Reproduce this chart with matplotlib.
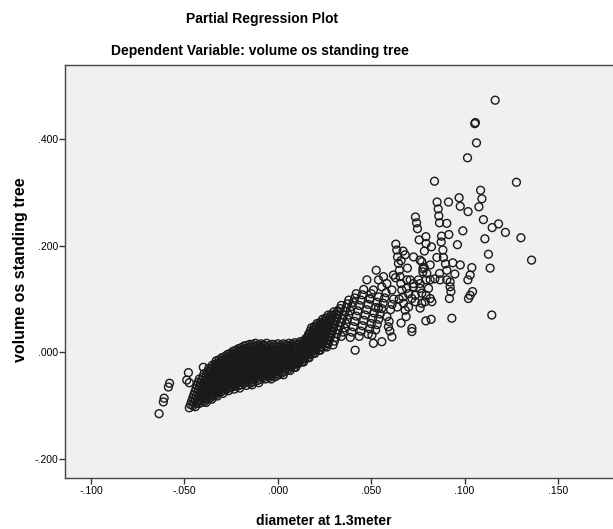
import matplotlib
matplotlib.use("Agg")
import matplotlib.pyplot as plt
from matplotlib.ticker import FuncFormatter

plt.rcParams['font.family'] = ['Liberation Sans', 'DejaVu Sans']

# --- values ---
# dense band of residuals, read streak by streak (each line is one streak)
band_x = [
    -0.0420, -0.0426, -0.0432, -0.0438, -0.0444, -0.0450, -0.0456, -0.0462, -0.0468, -0.0474,
    -0.0370, -0.0376, -0.0382, -0.0388, -0.0394, -0.0400, -0.0406, -0.0412, -0.0418, -0.0424, -0.0430, -0.0436, -0.0442,
    -0.0330, -0.0336, -0.0342, -0.0348, -0.0354, -0.0360, -0.0366, -0.0372, -0.0378, -0.0384, -0.0390, -0.0396, -0.0402, -0.0408,
    -0.0300, -0.0306, -0.0312, -0.0318, -0.0324, -0.0330, -0.0336, -0.0342, -0.0348, -0.0354, -0.0360, -0.0366, -0.0372, -0.0378, -0.0384,
    -0.0270, -0.0276, -0.0282, -0.0288, -0.0294, -0.0300, -0.0306, -0.0312, -0.0318, -0.0324, -0.0330, -0.0336, -0.0342, -0.0348, -0.0354,
    -0.0240, -0.0246, -0.0252, -0.0258, -0.0264, -0.0270, -0.0276, -0.0282, -0.0288, -0.0294, -0.0300, -0.0306, -0.0312, -0.0318, -0.0324,
    -0.0210, -0.0216, -0.0222, -0.0228, -0.0234, -0.0240, -0.0246, -0.0252, -0.0258, -0.0264, -0.0270, -0.0276, -0.0282, -0.0288, -0.0294,
    -0.0180, -0.0186, -0.0192, -0.0198, -0.0204, -0.0210, -0.0216, -0.0222, -0.0228, -0.0234, -0.0240, -0.0246, -0.0252, -0.0258, -0.0264,
    -0.0150, -0.0156, -0.0162, -0.0168, -0.0174, -0.0180, -0.0186, -0.0192, -0.0198, -0.0204, -0.0210, -0.0216, -0.0222, -0.0228, -0.0234,
    -0.0120, -0.0126, -0.0132, -0.0138, -0.0144, -0.0150, -0.0156, -0.0162, -0.0168, -0.0174, -0.0180, -0.0186, -0.0192, -0.0198, -0.0204,
    -0.0090, -0.0096, -0.0102, -0.0108, -0.0114, -0.0120, -0.0126, -0.0132, -0.0138, -0.0144, -0.0150, -0.0156, -0.0162, -0.0168,
    -0.0060, -0.0066, -0.0072, -0.0078, -0.0084, -0.0090, -0.0096, -0.0102, -0.0108, -0.0114, -0.0120, -0.0126, -0.0132, -0.0138,
    -0.0030, -0.0036, -0.0042, -0.0048, -0.0054, -0.0060, -0.0066, -0.0072, -0.0078, -0.0084, -0.0090, -0.0096, -0.0102,
    0.0000, -0.0006, -0.0012, -0.0018, -0.0024, -0.0030, -0.0036, -0.0042, -0.0048, -0.0054, -0.0060, -0.0066,
    0.0030, 0.0024, 0.0018, 0.0012, 0.0006, 0.0000, -0.0006, -0.0012, -0.0018, -0.0024, -0.0030, -0.0036,
    0.0060, 0.0054, 0.0048, 0.0042, 0.0036, 0.0030, 0.0024, 0.0018, 0.0012, 0.0006, 0.0000,
    0.0090, 0.0084, 0.0078, 0.0072, 0.0066, 0.0060, 0.0054, 0.0048, 0.0042, 0.0036, 0.0030,
    0.0120, 0.0114, 0.0108, 0.0102, 0.0096, 0.0090, 0.0084, 0.0078, 0.0072, 0.0066,
    0.0150, 0.0144, 0.0138, 0.0132, 0.0126, 0.0120, 0.0114, 0.0108, 0.0102, 0.0096,
    0.0180, 0.0174, 0.0168, 0.0162, 0.0156, 0.0150, 0.0144, 0.0138, 0.0132, 0.0126, 0.0120, 0.0114,
    0.0210, 0.0204, 0.0198, 0.0192, 0.0186, 0.0180, 0.0174, 0.0168, 0.0162, 0.0156, 0.0150, 0.0144, 0.0138,
    0.0240, 0.0234, 0.0228, 0.0222, 0.0216, 0.0210, 0.0204, 0.0198, 0.0192, 0.0186, 0.0180, 0.0174, 0.0168,
    0.0270, 0.0264, 0.0258, 0.0252, 0.0246, 0.0240, 0.0234, 0.0228, 0.0222, 0.0216, 0.0210, 0.0204, 0.0198,
    0.0300, 0.0294, 0.0288, 0.0282, 0.0276, 0.0270, 0.0264, 0.0258, 0.0252, 0.0246, 0.0240, 0.0234, 0.0228,
    0.0340, 0.0334, 0.0328, 0.0322, 0.0316, 0.0310, 0.0304, 0.0298, 0.0292, 0.0286, 0.0280, 0.0274, 0.0268, 0.0262,
    0.0380, 0.0373, 0.0366, 0.0359, 0.0352, 0.0345, 0.0338, 0.0331, 0.0324, 0.0317, 0.0310, 0.0303, 0.0296,
    0.0420, 0.0412, 0.0404, 0.0396, 0.0388, 0.0380, 0.0372, 0.0364, 0.0356, 0.0348, 0.0340,
    0.0460, 0.0452, 0.0444, 0.0436, 0.0428, 0.0420, 0.0412, 0.0404, 0.0396, 0.0388,
    0.0500, 0.0492, 0.0484, 0.0476, 0.0468, 0.0460, 0.0452, 0.0444, 0.0436,
    0.0540, 0.0532, 0.0524, 0.0516, 0.0508, 0.0500, 0.0492, 0.0484,
    0.0580, 0.0572, 0.0564, 0.0556, 0.0548, 0.0540, 0.0532, 0.0524,
    0.0620, 0.0612, 0.0604, 0.0596, 0.0600,
]
band_y = [
    -0.050, -0.056, -0.062, -0.068, -0.074, -0.080, -0.086, -0.092, -0.098, -0.104,
    -0.030, -0.036, -0.042, -0.048, -0.054, -0.060, -0.066, -0.072, -0.078, -0.084, -0.090, -0.096, -0.102,
    -0.016, -0.022, -0.028, -0.034, -0.040, -0.046, -0.052, -0.058, -0.064, -0.070, -0.076, -0.082, -0.088, -0.094,
    -0.010, -0.016, -0.022, -0.028, -0.034, -0.040, -0.046, -0.052, -0.058, -0.064, -0.070, -0.076, -0.082, -0.088, -0.094,
    -0.004, -0.010, -0.016, -0.022, -0.028, -0.034, -0.040, -0.046, -0.052, -0.058, -0.064, -0.070, -0.076, -0.082, -0.088,
    0.002, -0.004, -0.010, -0.016, -0.022, -0.028, -0.034, -0.040, -0.046, -0.052, -0.058, -0.064, -0.070, -0.076, -0.082,
    0.007, 0.001, -0.005, -0.011, -0.017, -0.023, -0.029, -0.035, -0.041, -0.047, -0.053, -0.059, -0.065, -0.071, -0.077,
    0.012, 0.006, 0.000, -0.006, -0.012, -0.018, -0.024, -0.030, -0.036, -0.042, -0.048, -0.054, -0.060, -0.066, -0.072,
    0.015, 0.009, 0.003, -0.003, -0.009, -0.015, -0.021, -0.027, -0.033, -0.039, -0.045, -0.051, -0.057, -0.063, -0.069,
    0.017, 0.011, 0.005, -0.001, -0.007, -0.013, -0.019, -0.025, -0.031, -0.037, -0.043, -0.049, -0.055, -0.061, -0.067,
    0.016, 0.010, 0.004, -0.002, -0.008, -0.014, -0.020, -0.026, -0.032, -0.038, -0.044, -0.050, -0.056, -0.062,
    0.017, 0.011, 0.005, -0.001, -0.007, -0.013, -0.019, -0.025, -0.031, -0.037, -0.043, -0.049, -0.055, -0.061,
    0.015, 0.009, 0.003, -0.003, -0.009, -0.015, -0.021, -0.027, -0.033, -0.039, -0.045, -0.051, -0.057,
    0.016, 0.010, 0.004, -0.002, -0.008, -0.014, -0.020, -0.026, -0.032, -0.038, -0.044, -0.050,
    0.016, 0.010, 0.004, -0.002, -0.008, -0.014, -0.020, -0.026, -0.032, -0.038, -0.044, -0.050,
    0.017, 0.011, 0.005, -0.001, -0.007, -0.013, -0.019, -0.025, -0.031, -0.037, -0.043,
    0.018, 0.012, 0.006, 0.000, -0.006, -0.012, -0.018, -0.024, -0.030, -0.036, -0.042,
    0.020, 0.014, 0.008, 0.002, -0.004, -0.010, -0.016, -0.022, -0.028, -0.034,
    0.026, 0.020, 0.014, 0.008, 0.002, -0.004, -0.010, -0.016, -0.022, -0.028,
    0.046, 0.040, 0.034, 0.028, 0.022, 0.016, 0.010, 0.004, -0.002, -0.008, -0.014, -0.020,
    0.054, 0.048, 0.042, 0.036, 0.030, 0.024, 0.018, 0.012, 0.006, 0.000, -0.006, -0.012, -0.018,
    0.062, 0.056, 0.050, 0.044, 0.038, 0.032, 0.026, 0.020, 0.014, 0.008, 0.002, -0.004, -0.010,
    0.070, 0.064, 0.058, 0.052, 0.046, 0.040, 0.034, 0.028, 0.022, 0.016, 0.010, 0.004, -0.002,
    0.076, 0.070, 0.064, 0.058, 0.052, 0.046, 0.040, 0.034, 0.028, 0.022, 0.016, 0.010, 0.004,
    0.088, 0.082, 0.076, 0.070, 0.064, 0.058, 0.052, 0.046, 0.040, 0.034, 0.028, 0.022, 0.016, 0.010,
    0.098, 0.091, 0.084, 0.077, 0.070, 0.063, 0.056, 0.049, 0.042, 0.035, 0.028, 0.021, 0.014,
    0.110, 0.102, 0.094, 0.086, 0.078, 0.070, 0.062, 0.054, 0.046, 0.038, 0.030,
    0.118, 0.108, 0.098, 0.088, 0.078, 0.068, 0.058, 0.048, 0.038, 0.028,
    0.110, 0.100, 0.090, 0.080, 0.070, 0.060, 0.050, 0.040, 0.030,
    0.104, 0.094, 0.084, 0.074, 0.064, 0.054, 0.044, 0.034,
    0.112, 0.102, 0.092, 0.082, 0.072, 0.062, 0.052, 0.042,
    0.100, 0.090, 0.080, 0.058, 0.040,
]

# streaks lying in between the ones above (the band is solid black there)
fill_x = [
    -0.0395, -0.0401, -0.0407, -0.0413, -0.0419, -0.0425, -0.0431, -0.0437, -0.0443, -0.0449, -0.0455,
    -0.0350, -0.0356, -0.0362, -0.0368, -0.0374, -0.0380, -0.0386, -0.0392, -0.0398, -0.0404, -0.0410, -0.0416, -0.0422,
    -0.0315, -0.0321, -0.0327, -0.0333, -0.0339, -0.0345, -0.0351, -0.0357, -0.0363, -0.0369, -0.0375, -0.0381, -0.0387, -0.0393,
    -0.0285, -0.0291, -0.0297, -0.0303, -0.0309, -0.0315, -0.0321, -0.0327, -0.0333, -0.0339, -0.0345, -0.0351, -0.0357, -0.0363,
    -0.0255, -0.0261, -0.0267, -0.0273, -0.0279, -0.0285, -0.0291, -0.0297, -0.0303, -0.0309, -0.0315, -0.0321, -0.0327, -0.0333,
    -0.0225, -0.0231, -0.0237, -0.0243, -0.0249, -0.0255, -0.0261, -0.0267, -0.0273, -0.0279, -0.0285, -0.0291, -0.0297, -0.0303,
    -0.0195, -0.0201, -0.0207, -0.0213, -0.0219, -0.0225, -0.0231, -0.0237, -0.0243, -0.0249, -0.0255, -0.0261, -0.0267, -0.0273,
    -0.0165, -0.0171, -0.0177, -0.0183, -0.0189, -0.0195, -0.0201, -0.0207, -0.0213, -0.0219, -0.0225, -0.0231, -0.0237, -0.0243,
    -0.0135, -0.0141, -0.0147, -0.0153, -0.0159, -0.0165, -0.0171, -0.0177, -0.0183, -0.0189, -0.0195, -0.0201, -0.0207, -0.0213,
    -0.0105, -0.0111, -0.0117, -0.0123, -0.0129, -0.0135, -0.0141, -0.0147, -0.0153, -0.0159, -0.0165, -0.0171, -0.0177,
    -0.0075, -0.0081, -0.0087, -0.0093, -0.0099, -0.0105, -0.0111, -0.0117, -0.0123, -0.0129, -0.0135, -0.0141, -0.0147,
    -0.0045, -0.0051, -0.0057, -0.0063, -0.0069, -0.0075, -0.0081, -0.0087, -0.0093, -0.0099, -0.0105, -0.0111,
    -0.0015, -0.0021, -0.0027, -0.0033, -0.0039, -0.0045, -0.0051, -0.0057, -0.0063, -0.0069, -0.0075,
    0.0015, 0.0009, 0.0003, -0.0003, -0.0009, -0.0015, -0.0021, -0.0027, -0.0033, -0.0039, -0.0045,
    0.0045, 0.0039, 0.0033, 0.0027, 0.0021, 0.0015, 0.0009, 0.0003, -0.0003, -0.0009, -0.0015,
    0.0075, 0.0069, 0.0063, 0.0057, 0.0051, 0.0045, 0.0039, 0.0033, 0.0027, 0.0021,
    0.0105, 0.0099, 0.0093, 0.0087, 0.0081, 0.0075, 0.0069, 0.0063, 0.0057,
    0.0135, 0.0129, 0.0123, 0.0117, 0.0111, 0.0105, 0.0099, 0.0093, 0.0087,
    0.0165, 0.0159, 0.0153, 0.0147, 0.0141, 0.0135, 0.0129, 0.0123, 0.0117, 0.0111,
    0.0195, 0.0189, 0.0183, 0.0177, 0.0171, 0.0165, 0.0159, 0.0153, 0.0147, 0.0141, 0.0135, 0.0129,
    0.0225, 0.0219, 0.0213, 0.0207, 0.0201, 0.0195, 0.0189, 0.0183, 0.0177, 0.0171, 0.0165, 0.0159,
    0.0255, 0.0249, 0.0243, 0.0237, 0.0231, 0.0225, 0.0219, 0.0213, 0.0207, 0.0201, 0.0195, 0.0189,
    0.0285, 0.0279, 0.0273, 0.0267, 0.0261, 0.0255, 0.0249, 0.0243, 0.0237, 0.0231, 0.0225, 0.0219,
    0.0320, 0.0314, 0.0308, 0.0302, 0.0296, 0.0290, 0.0284, 0.0278, 0.0272, 0.0266, 0.0260, 0.0254,
]
fill_y = [
    -0.040, -0.046, -0.052, -0.058, -0.064, -0.070, -0.076, -0.082, -0.088, -0.094, -0.100,
    -0.024, -0.030, -0.036, -0.042, -0.048, -0.054, -0.060, -0.066, -0.072, -0.078, -0.084, -0.090, -0.096,
    -0.014, -0.020, -0.026, -0.032, -0.038, -0.044, -0.050, -0.056, -0.062, -0.068, -0.074, -0.080, -0.086, -0.092,
    -0.008, -0.014, -0.020, -0.026, -0.032, -0.038, -0.044, -0.050, -0.056, -0.062, -0.068, -0.074, -0.080, -0.086,
    -0.002, -0.008, -0.014, -0.020, -0.026, -0.032, -0.038, -0.044, -0.050, -0.056, -0.062, -0.068, -0.074, -0.080,
    0.004, -0.002, -0.008, -0.014, -0.020, -0.026, -0.032, -0.038, -0.044, -0.050, -0.056, -0.062, -0.068, -0.074,
    0.009, 0.003, -0.003, -0.009, -0.015, -0.021, -0.027, -0.033, -0.039, -0.045, -0.051, -0.057, -0.063, -0.069,
    0.013, 0.007, 0.001, -0.005, -0.011, -0.017, -0.023, -0.029, -0.035, -0.041, -0.047, -0.053, -0.059, -0.065,
    0.015, 0.009, 0.003, -0.003, -0.009, -0.015, -0.021, -0.027, -0.033, -0.039, -0.045, -0.051, -0.057, -0.063,
    0.014, 0.008, 0.002, -0.004, -0.010, -0.016, -0.022, -0.028, -0.034, -0.040, -0.046, -0.052, -0.058,
    0.014, 0.008, 0.002, -0.004, -0.010, -0.016, -0.022, -0.028, -0.034, -0.040, -0.046, -0.052, -0.058,
    0.013, 0.007, 0.001, -0.005, -0.011, -0.017, -0.023, -0.029, -0.035, -0.041, -0.047, -0.053,
    0.013, 0.007, 0.001, -0.005, -0.011, -0.017, -0.023, -0.029, -0.035, -0.041, -0.047,
    0.013, 0.007, 0.001, -0.005, -0.011, -0.017, -0.023, -0.029, -0.035, -0.041, -0.047,
    0.014, 0.008, 0.002, -0.004, -0.010, -0.016, -0.022, -0.028, -0.034, -0.040, -0.046,
    0.015, 0.009, 0.003, -0.003, -0.009, -0.015, -0.021, -0.027, -0.033, -0.039,
    0.016, 0.010, 0.004, -0.002, -0.008, -0.014, -0.020, -0.026, -0.032,
    0.020, 0.014, 0.008, 0.002, -0.004, -0.010, -0.016, -0.022, -0.028,
    0.034, 0.028, 0.022, 0.016, 0.010, 0.004, -0.002, -0.008, -0.014, -0.020,
    0.048, 0.042, 0.036, 0.030, 0.024, 0.018, 0.012, 0.006, 0.000, -0.006, -0.012, -0.018,
    0.056, 0.050, 0.044, 0.038, 0.032, 0.026, 0.020, 0.014, 0.008, 0.002, -0.004, -0.010,
    0.064, 0.058, 0.052, 0.046, 0.040, 0.034, 0.028, 0.022, 0.016, 0.010, 0.004, -0.002,
    0.070, 0.064, 0.058, 0.052, 0.046, 0.040, 0.034, 0.028, 0.022, 0.016, 0.010, 0.004,
    0.078, 0.072, 0.066, 0.060, 0.054, 0.048, 0.042, 0.036, 0.030, 0.024, 0.018, 0.012,
]

# scattered points towards the upper right
spread_x = [
    0.1164, 0.1055, 0.1058, 0.1064, 0.1016, 0.0839, 0.1278, 0.1086, 0.1093, 0.1077,
    0.0971, 0.0977, 0.1019, 0.0914, 0.0853, 0.0859, 0.0862, 0.0866, 0.0905, 0.0737,
    0.0743, 0.0748, 0.1101, 0.1148, 0.1182, 0.1219, 0.1302, 0.1359, 0.1109, 0.1128,
    0.1137, 0.0991, 0.0916, 0.0962, 0.0877, 0.0875, 0.0884, 0.0793, 0.0794, 0.0757,
    0.0823, 0.0632, 0.0671, 0.0727, 0.0785, 0.0852, 0.0887, 0.0937, 0.0977, 0.0898,
    0.1039, 0.0816, 0.0771, 0.0694, 0.1030, 0.0948, 0.0866, 0.0777, 0.0777, 0.0905,
    0.0841, 0.0923, 0.0923, 0.0927, 0.0919, 0.1018, 0.1043, 0.1030, 0.1021, 0.1146,
    0.0932, 0.0821, 0.0793, 0.0718, 0.0718, 0.0794, 0.0816, 0.0869, 0.0905, 0.0816,
    0.0789, 0.0825, 0.0771, 0.0807, 0.0762, 0.0726, 0.0753, 0.0736, 0.0794, 0.0771,
    0.0762, 0.0736, 0.0718, 0.0762, 0.0798, 0.0784, 0.0762, 0.0726, 0.0709, 0.0682,
    0.0691, 0.0619, 0.0611, 0.0584, 0.0557, 0.0566, 0.0539, 0.0527, 0.0512, 0.0477,
    0.0494, 0.0539, 0.0584, 0.0592, 0.0611, 0.0504, 0.0512, 0.0557, 0.0414, 0.0637,
    0.0641, 0.0646, 0.0651, 0.0655, 0.0659, 0.0664, 0.0670, 0.0673, 0.0682, 0.0687,
    0.0660, 0.0690, 0.0700, 0.0650, 0.0640, 0.0700, 0.0660, 0.0630,
]
spread_y = [
    0.473, 0.429, 0.431, 0.393, 0.365, 0.321, 0.319, 0.304, 0.288, 0.273,
    0.290, 0.274, 0.264, 0.282, 0.282, 0.269, 0.256, 0.243, 0.242, 0.254,
    0.243, 0.232, 0.249, 0.234, 0.241, 0.225, 0.215, 0.173, 0.213, 0.184,
    0.158, 0.228, 0.221, 0.202, 0.218, 0.207, 0.192, 0.217, 0.204, 0.211,
    0.198, 0.203, 0.190, 0.179, 0.190, 0.178, 0.178, 0.168, 0.164, 0.166,
    0.159, 0.164, 0.170, 0.158, 0.145, 0.147, 0.148, 0.157, 0.151, 0.154,
    0.138, 0.132, 0.123, 0.114, 0.101, 0.136, 0.114, 0.107, 0.101, 0.070,
    0.064, 0.062, 0.059, 0.045, 0.039, 0.136, 0.136, 0.136, 0.136, 0.101,
    0.095, 0.095, 0.092, 0.120, 0.120, 0.123, 0.136, 0.107, 0.107, 0.111,
    0.083, 0.095, 0.101, 0.129, 0.148, 0.159, 0.173, 0.129, 0.136, 0.183,
    0.136, 0.145, 0.117, 0.129, 0.123, 0.142, 0.136, 0.154, 0.117, 0.136,
    0.101, 0.083, 0.067, 0.048, 0.029, 0.032, 0.017, 0.020, 0.004, 0.192,
    0.179, 0.167, 0.154, 0.142, 0.129, 0.117, 0.104, 0.092, 0.079, 0.067,
    0.172, 0.120, 0.085, 0.100, 0.085, 0.110, 0.055, 0.140,
]

# isolated points at the lower left end of the band
left_x = [-0.0636, -0.0613, -0.0609, -0.0586, -0.0580, -0.0479, -0.0488, -0.0474, -0.0399]
left_y = [-0.115, -0.093, -0.086, -0.065, -0.058, -0.038, -0.052, -0.057, -0.028]

x_ticks = [-0.100, -0.050, 0.000, 0.050, 0.100, 0.150]
y_ticks = [-0.200, 0.000, 0.200, 0.400]

title = "Partial Regression Plot"
subtitle = "Dependent Variable: volume os standing tree"
x_label = "diameter at 1.3meter"
y_label = "volume os standing tree"

assert len(band_x) == len(band_y)
assert len(fill_x) == len(fill_y)
assert len(spread_x) == len(spread_y)

fig = plt.figure(figsize=(6.13, 5.29), dpi=100)
ax = fig.add_axes([0.106, 0.0964, 0.904, 0.7807])
ax.set_facecolor('#f0f0f0')

for xs, ys in [(band_x, band_y), (fill_x, fill_y), (spread_x, spread_y), (left_x, left_y)]:
    ax.scatter(xs, ys, s=32, facecolors='none', edgecolors='#1a1a1a', linewidths=1.0)

ax.set_xlim(-0.114, 0.1828)
ax.set_ylim(-0.2357, 0.539)
ax.set_xticks(x_ticks)
ax.set_yticks(y_ticks)

def spss_fmt(v, pos):
    return f"{v:.3f}".replace("0.", ".", 1)

ax.xaxis.set_major_formatter(FuncFormatter(spss_fmt))
ax.yaxis.set_major_formatter(FuncFormatter(spss_fmt))
ax.tick_params(direction='out', length=4, width=1, color='#333333',
               labelsize=7.5, pad=2)
ax.tick_params(axis='y', pad=1)
for side in ['left', 'bottom', 'top']:
    ax.spines[side].set_color('#444444')
    ax.spines[side].set_linewidth(1.0)
ax.spines['right'].set_visible(False)

fig.text(262 / 613, 1 - 22.5 / 529, title, ha='center', va='baseline',
         fontsize=10, fontweight='bold')
fig.text(260 / 613, 1 - 55 / 529, subtitle, ha='center', va='baseline',
         fontsize=10, fontweight='bold')
fig.text(324 / 613, 1 - 525 / 529, x_label, ha='center', va='baseline',
         fontsize=10, fontweight='bold')
fig.text(21 / 613, 1 - 270 / 529, y_label, ha='center', va='center',
         rotation=90, fontsize=11.5, fontweight='bold')

fig.savefig('out.png', dpi=100)
